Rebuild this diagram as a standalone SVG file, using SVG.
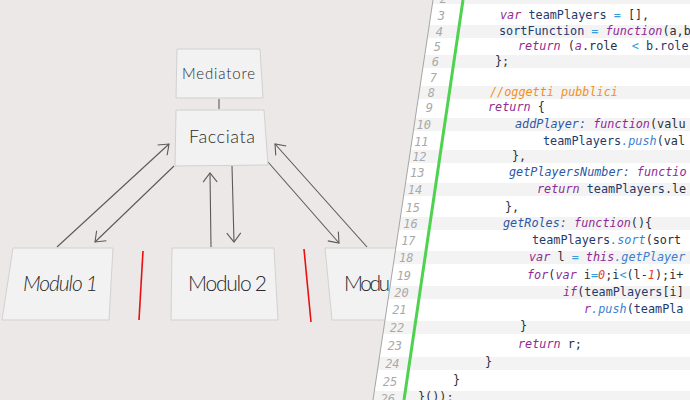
<svg xmlns="http://www.w3.org/2000/svg" width="690" height="400" viewBox="0 0 690 400">
<style>
.box{fill:#f2f2f2;stroke:#d2d0d0;stroke-width:1}
.lbl{font-family:Lato,"Open Sans","Liberation Sans",sans-serif;font-weight:300;fill:#2a2a2a}
.con{fill:none;stroke:#5a5a5a;stroke-width:1.1}
.red{stroke:#e81010;stroke-width:1.6}
.c{font-family:"DejaVu Sans Mono","Liberation Mono",monospace;font-size:11.8px;fill:#2b2f38;white-space:pre}
.ln{font-family:"DejaVu Sans Mono","Liberation Mono",monospace;font-size:12px;fill:#a9a9a9;font-style:italic;text-anchor:end}
.k{fill:#8f2a95;font-style:italic}
.v{fill:#1f3a6e}
.p{fill:#2f56a6;font-style:italic}
.m{fill:#3b7fd0;font-style:italic}
.o{fill:#3a9bdc}
.cm{fill:#f39020;font-style:italic}
.n{fill:#e3402c;font-style:italic}
.st{fill:#f3f3f3}
</style>
<defs>
<marker id="ah" viewBox="-12 -10 14 20" refX="0" refY="0" markerWidth="14" markerHeight="20" markerUnits="userSpaceOnUse" orient="auto">
<path d="M-9,-7 L0,0 L-9,7" fill="none" stroke="#5a5a5a" stroke-width="1.1"/>
</marker>
<clipPath id="left"><polygon points="0,0 433,0 373,400 0,400"/></clipPath>
<clipPath id="panel"><polygon points="433,0 690,0 690,400 373,400"/></clipPath>
</defs>
<rect x="0" y="0" width="690" height="400" fill="#ece8e8"/>

<g id="connectors">
<line x1="219" y1="99" x2="219" y2="109" class="con"/>
<line x1="57" y1="247" x2="169" y2="144" class="con" marker-end="url(#ah)"/>
<line x1="174" y1="166" x2="95" y2="242" class="con" marker-end="url(#ah)"/>
<line x1="211" y1="247" x2="210" y2="173" class="con" marker-end="url(#ah)"/>
<line x1="232" y1="166" x2="234" y2="242" class="con" marker-end="url(#ah)"/>
<line x1="268" y1="162" x2="339" y2="243" class="con" marker-end="url(#ah)"/>
<line x1="367" y1="247" x2="275" y2="144" class="con" marker-end="url(#ah)"/>
</g>

<g id="mediatore">
<polygon class="box" points="177,49 260,49 263,98 176,98"/>
<text class="lbl" x="182" y="79" font-size="15" textLength="73">Mediatore</text>
</g>
<g id="facciata">
<polygon class="box" points="176,110 264,110 268,165 175,166"/>
<text class="lbl" x="189" y="143" font-size="18" textLength="66">Facciata</text>
</g>
<g id="modulo1">
<polygon class="box" points="13,248 113,248 109,320 2,320"/>
<text class="lbl" x="23" y="291" font-size="21" font-style="italic" textLength="75">Modulo 1</text>
</g>
<g id="modulo2">
<polygon class="box" points="172,248 274,248 278,320 171,320"/>
<text class="lbl" x="188" y="291" font-size="21" textLength="79">Modulo 2</text>
</g>
<g id="modulo3" clip-path="url(#left)">
<polygon class="box" points="325,248 430,248 434,320 332,320"/>
<text class="lbl" x="344" y="291" font-size="21" textLength="46">Modu</text>
</g>

<g id="separators">
<line x1="143" y1="251" x2="139" y2="320" class="red"/>
<line x1="304" y1="249" x2="311" y2="322" class="red"/>
</g>

<g id="code-panel">
<polygon points="433,0 690,0 690,400 373,400" fill="#ffffff"/>
<g clip-path="url(#panel)">
<rect class="st" x="370" y="-9" width="320" height="13"/>
<rect class="st" x="370" y="25" width="320" height="13"/>
<rect class="st" x="370" y="55" width="320" height="13"/>
<rect class="st" x="370" y="86" width="320" height="13"/>
<rect class="st" x="370" y="118" width="320" height="13"/>
<rect class="st" x="370" y="150" width="320" height="13"/>
<rect class="st" x="370" y="183" width="320" height="13"/>
<rect class="st" x="370" y="217" width="320" height="13"/>
<rect class="st" x="370" y="251" width="320" height="13"/>
<rect class="st" x="370" y="286" width="320" height="13"/>
<rect class="st" x="370" y="321" width="320" height="13"/>
<rect class="st" x="370" y="357" width="320" height="13"/>
<rect class="st" x="370" y="391" width="320" height="13"/>
</g>
<line x1="433" y1="0" x2="373" y2="400" stroke="#a5a5a5" stroke-width="1"/>
<line x1="463" y1="0" x2="404" y2="400" stroke="#4fd24f" stroke-width="3"/>

<g id="line-numbers">
<text class="ln" x="447" y="2.5">2</text>
<text class="ln" x="445" y="19.5">3</text>
<text class="ln" x="443" y="35.5">4</text>
<text class="ln" x="441" y="50.5">5</text>
<text class="ln" x="439" y="65.5">6</text>
<text class="ln" x="437" y="81.5">7</text>
<text class="ln" x="435" y="96.5">8</text>
<text class="ln" x="433" y="111.5">9</text>
<text class="ln" x="431" y="128.5">10</text>
<text class="ln" x="428.6" y="145.5">11</text>
<text class="ln" x="426.6" y="160.5">12</text>
<text class="ln" x="424.5" y="176.5">13</text>
<text class="ln" x="422.3" y="193.5">14</text>
<text class="ln" x="419.9" y="211.5">15</text>
<text class="ln" x="417.8" y="227.5">16</text>
<text class="ln" x="415.6" y="244.5">17</text>
<text class="ln" x="413.4" y="261.5">18</text>
<text class="ln" x="411.1" y="279.5">19</text>
<text class="ln" x="408.8" y="296.5">20</text>
<text class="ln" x="406.6" y="313.5">21</text>
<text class="ln" x="404.3" y="331.5">22</text>
<text class="ln" x="401.9" y="349.5">23</text>
<text class="ln" x="399.6" y="367.5">24</text>
<text class="ln" x="397.2" y="385.5">25</text>
<text class="ln" x="395" y="402.5">26</text>
</g>

<g id="code">
<text class="c" x="500" y="19"><tspan class="k">var</tspan> <tspan class="v">teamPlayers</tspan> <tspan class="o">=</tspan> [],</text>
<text class="c" x="499" y="35"><tspan class="v">sortFunction</tspan> <tspan class="o">=</tspan> <tspan class="k">function</tspan>(a,b</text>
<text class="c" x="518" y="50"><tspan class="k">return</tspan> (<tspan class="k">a</tspan>.role  <tspan class="o">&lt;</tspan> <tspan class="v">b.role</tspan></text>
<text class="c" x="495" y="65">};</text>
<text class="c" x="490" y="96"><tspan class="cm">//oggetti pubblici</tspan></text>
<text class="c" x="488" y="111"><tspan class="k">return</tspan> {</text>
<text class="c" x="515" y="128"><tspan class="p">addPlayer:</tspan> <tspan class="k">function</tspan>(valu</text>
<text class="c" x="543" y="145"><tspan class="v">teamPlayers</tspan><tspan class="m">.push</tspan>(val</text>
<text class="c" x="512" y="160">},</text>
<text class="c" x="509" y="176"><tspan class="p">getPlayersNumber:</tspan> <tspan class="k">functio</tspan></text>
<text class="c" x="537" y="193"><tspan class="k">return</tspan> <tspan class="v">teamPlayers</tspan>.le</text>
<text class="c" x="505" y="211">},</text>
<text class="c" x="503" y="227"><tspan class="p">getRoles:</tspan> <tspan class="k">function</tspan>(){</text>
<text class="c" x="532" y="244"><tspan class="v">teamPlayers</tspan><tspan class="m">.sort</tspan>(sort</text>
<text class="c" x="529" y="261"><tspan class="k">var</tspan> l <tspan class="o">=</tspan> <tspan class="k">this</tspan><tspan class="m">.getPlayer</tspan></text>
<text class="c" x="527" y="279"><tspan class="k">for</tspan>(<tspan class="k">var</tspan> i<tspan class="o">=</tspan><tspan class="n">0</tspan>;i<tspan class="o">&lt;</tspan>(l-<tspan class="n">1</tspan>);i+</text>
<text class="c" x="563" y="296"><tspan class="k">if</tspan>(<tspan class="v">teamPlayers</tspan>[i]</text>
<text class="c" x="584" y="313"><tspan class="k">r</tspan><tspan class="m">.push</tspan>(<tspan class="v">teamPla</tspan></text>
<text class="c" x="520" y="330">}</text>
<text class="c" x="518" y="348"><tspan class="k">return</tspan> r;</text>
<text class="c" x="485" y="366">}</text>
<text class="c" x="453" y="384">}</text>
<text class="c" x="418" y="401">}());</text>
</g>
</g>
</svg>
